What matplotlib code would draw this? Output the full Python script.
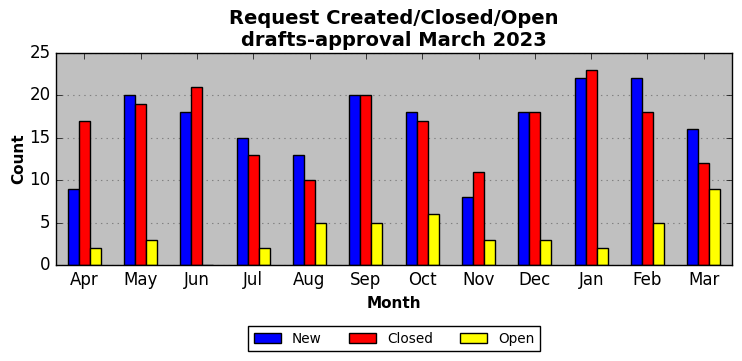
import numpy as np
import matplotlib
matplotlib.use("Agg")
import matplotlib.pyplot as plt

plt.style.use("classic")

months = ["Apr", "May", "Jun", "Jul", "Aug", "Sep", "Oct", "Nov", "Dec", "Jan", "Feb", "Mar"]
new = [9, 20, 18, 15, 13, 20, 18, 8, 18, 22, 22, 16]
closed = [17, 19, 21, 13, 10, 20, 17, 11, 18, 23, 18, 12]
opened = [2, 3, 0, 2, 5, 5, 6, 3, 3, 2, 5, 9]

fig = plt.figure(figsize=(7.42, 3.61), dpi=100)
ax = fig.add_axes([56 / 742, 1 - 265 / 361, 676 / 742, 212 / 361])
ax.set_facecolor("#c0c0c0")

x = np.arange(len(months))
w = 0.195
ax.bar(x - w, new, w, color="blue", edgecolor="black", linewidth=1, label="New", align="center")
ax.bar(x, closed, w, color="red", edgecolor="black", linewidth=1, label="Closed", align="center")
ax.bar(x + w, opened, w, color="yellow", edgecolor="black", linewidth=1, label="Open", align="center")

ax.set_xlim(-0.5, 11.5)
ax.set_ylim(0, 25)
ax.set_xticks(x)
ax.set_xticklabels(months)
ax.yaxis.grid(True, color="gray", linestyle=":", linewidth=0.8)
ax.set_axisbelow(True)
ax.set_xlabel("Month", fontweight="bold", fontsize=11)
ax.set_ylabel("Count", fontweight="bold", fontsize=11, labelpad=2)
ax.set_title("Request Created/Closed/Open\ndrafts-approval March 2023", fontweight="bold", fontsize=14)
ax.legend(loc="upper center", bbox_to_anchor=(0.5, -0.257), ncol=3, fontsize=9.8)

fig.savefig("out.png", dpi=100)
